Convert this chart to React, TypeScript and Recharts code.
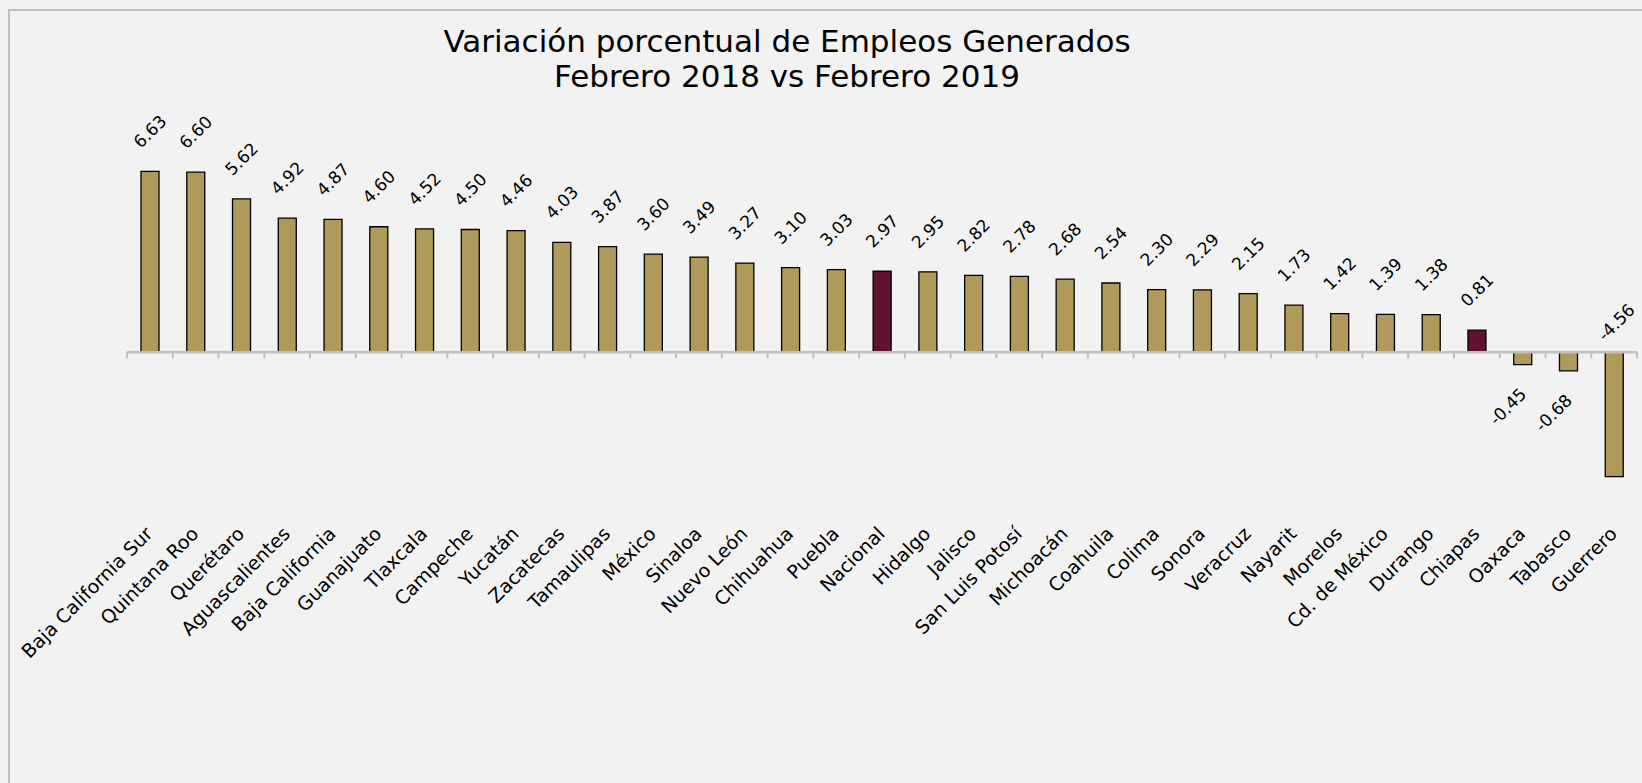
import React from "react";
import { BarChart, Bar, XAxis, YAxis, Cell, LabelList, ReferenceLine } from "recharts";

const estados = [
  "Baja California Sur", "Quintana Roo", "Querétaro", "Aguascalientes", "Baja California",
  "Guanajuato", "Tlaxcala", "Campeche", "Yucatán", "Zacatecas", "Tamaulipas", "México",
  "Sinaloa", "Nuevo León", "Chihuahua", "Puebla", "Nacional", "Hidalgo", "Jalisco",
  "San Luis Potosí", "Michoacán", "Coahuila", "Colima", "Sonora", "Veracruz", "Nayarit",
  "Morelos", "Cd. de México", "Durango", "Chiapas", "Oaxaca", "Tabasco", "Guerrero",
];

const variacion = [
  6.63, 6.6, 5.62, 4.92, 4.87, 4.6, 4.52, 4.5, 4.46, 4.03, 3.87, 3.6, 3.49, 3.27, 3.1, 3.03,
  2.97, 2.95, 2.82, 2.78, 2.68, 2.54, 2.3, 2.29, 2.15, 1.73, 1.42, 1.39, 1.38, 0.81, -0.45,
  -0.68, -4.56,
];

const destacados = ["Nacional", "Chiapas"];

const titulo = ["Variación porcentual de Empleos Generados", "Febrero 2018 vs Febrero 2019"];

const data = estados.map((estado, i) => ({ estado, valor: variacion[i] }));

const ORO = "#B09A5B";
const GUINDA = "#621132";
const GRIS = "#BFBFBF";
const FONDO = "#F2F2F2";
const FUENTE = "'DejaVu Sans', sans-serif";

function EstadoTick(props: any) {
  const { x, y, payload } = props;
  return (
    <g transform={`translate(${x + 4},${y + 19})`}>
      <text transform="rotate(-45)" textAnchor="end" fontSize={19} fontFamily={FUENTE} fill="#000">
        {payload.value}
      </text>
    </g>
  );
}

function EtiquetaValor(props: any) {
  const { x, y, width, height, value } = props;
  const cx = x + width / 2;
  const top = Math.min(y, y + height);
  const bottom = Math.max(y, y + height);
  let lx = cx;
  let ly = top - 40;
  if (value < 0) {
    if (bottom - top > 60) {
      // barra negativa larga: la etiqueta se queda arriba del eje
      lx = cx + 2;
      ly = top - 30;
    } else {
      lx = cx - 15;
      ly = bottom + 42;
    }
  }
  return (
    <text
      x={lx}
      y={ly}
      transform={`rotate(-45, ${lx}, ${ly})`}
      textAnchor="middle"
      dominantBaseline="central"
      fontSize={17}
      fontFamily={FUENTE}
      fill="#000"
    >
      {Number(value).toFixed(2)}
    </text>
  );
}

function EjeCero(props: any) {
  const { x1, y1, x2 } = props;
  const n = estados.length;
  const paso = (x2 - x1) / n;
  return (
    <g>
      <line x1={x1} y1={y1} x2={x2} y2={y1} stroke={GRIS} strokeWidth={2.5} />
      {Array.from({ length: n + 1 }, (_, i) => (
        <line key={i} x1={x1 + i * paso} x2={x1 + i * paso} y1={y1} y2={y1 + 6} stroke={GRIS} strokeWidth={2} />
      ))}
    </g>
  );
}

export default function App() {
  return (
    <div style={{ position: "relative", width: 1642, height: 783, overflow: "hidden", background: FONDO }}>
      <style>{`body{margin:0;background:${FONDO};overflow:hidden}`}</style>
      <div
        style={{
          position: "absolute", left: 8, top: 9, width: 2000, height: 2000,
          borderLeft: `2px solid ${GRIS}`, borderTop: `2px solid ${GRIS}`,
        }}
      />
      <div
        style={{
          position: "absolute", left: 0, top: 24, width: 1574, textAlign: "center",
          fontFamily: FUENTE, fontSize: 31, lineHeight: "35px", color: "#000",
        }}
      >
        {titulo.map((t) => (
          <div key={t}>{t}</div>
        ))}
      </div>
      <div style={{ position: "absolute", left: 0, top: 0 }}>
        <BarChart width={1642} height={783} data={data} margin={{ top: 134, right: 5, left: 127, bottom: 237 }}>
          <XAxis
            dataKey="estado"
            height={30}
            interval={0}
            axisLine={false}
            tickLine={false}
            tickSize={0}
            tickMargin={0}
            tick={<EstadoTick />}
          />
          <YAxis hide domain={[-6, 8]} />
          <Bar dataKey="valor" barSize={18} stroke="#000" strokeWidth={1.3} isAnimationActive={false}>
            {data.map((d) => (
              <Cell key={d.estado} fill={destacados.includes(d.estado) ? GUINDA : ORO} />
            ))}
            <LabelList dataKey="valor" content={<EtiquetaValor />} />
          </Bar>
          <ReferenceLine y={0} shape={<EjeCero />} />
        </BarChart>
      </div>
    </div>
  );
}
